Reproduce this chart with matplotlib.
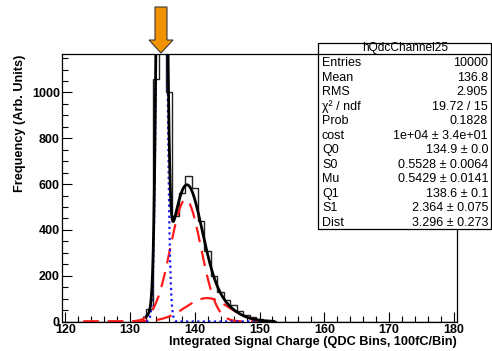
import numpy as np
import matplotlib
matplotlib.use("Agg")
import matplotlib.pyplot as plt
from matplotlib.patches import Rectangle, Polygon
from matplotlib.lines import Line2D
from matplotlib.ticker import MultipleLocator

plt.rcParams['font.family'] = ['Liberation Sans', 'DejaVu Sans']

# Histogram: unit-width QDC bins, centres 120..180
bin_centers = list(range(120, 181))
counts_nonzero = {
    133: 53, 134: 1058, 135: 4296, 136: 1003, 137: 460, 138: 560,
    139: 635, 140: 581, 141: 439, 142: 310, 143: 200, 144: 130,
    145: 95, 146: 70, 147: 45, 148: 30, 149: 18, 150: 10, 151: 5, 152: 2,
}
counts = [counts_nonzero.get(c, 0) for c in bin_centers]

# Fit parameters (stat box)
hist_name = "hQdcChannel25"
entries = 10000
mean = 136.8
rms = 2.905
chi2, ndf = 19.72, 15
prob = 0.1828
cost, cost_err = 1e4, 34.0
q0, q0_err = 134.9, 0.0
s0, s0_err = 0.5528, 0.0064
mu, mu_err = 0.5429, 0.0141
q1, q1_err = 138.6, 0.1
s1, s1_err = 2.364, 0.075
dist, dist_err = 3.296, 0.273

stat_labels = ["Entries", "Mean", "RMS", "χ² / ndf", "Prob", "cost",
               "Q0", "S0", "Mu", "Q1", "S1", "Dist"]
stat_values = ["%d" % entries, "%.1f" % mean, "%.3f" % rms,
               "%.2f / %d" % (chi2, ndf), "%.4f" % prob,
               "1e+04 ± 3.4e+01",
               "%.1f ± %.1f" % (q0, q0_err), "%.4f ± %.4f" % (s0, s0_err),
               "%.4f ± %.4f" % (mu, mu_err), "%.1f ± %.1f" % (q1, q1_err),
               "%.3f ± %.3f" % (s1, s1_err), "%.3f ± %.3f" % (dist, dist_err)]


def gauss(x, area, c, s):
    return area / (np.sqrt(2 * np.pi) * s) * np.exp(-0.5 * ((x - c) / s) ** 2)


W, H = 492, 351


def fx(x):
    return x / W


def fy(y):
    return 1 - y / H


fig = plt.figure(figsize=(W / 100, H / 100), dpi=100)
fig.patch.set_facecolor('white')

ax_l, ax_r, ax_t, ax_b = 62, 457, 54, 321.5
ax = fig.add_axes([fx(ax_l), fy(ax_b), (ax_r - ax_l) / W, (ax_b - ax_t) / H])

edges = np.arange(119.5, 181.0, 1.0)
ax.stairs(counts, edges, color='#222222', lw=1.0, baseline=0)

# Poisson-weighted Gaussian components
p0 = np.exp(-mu)
p1 = mu * p0
p2 = mu ** 2 / 2 * p0
x_ped = np.linspace(132.5, 152.2, 800)
x_pe = np.linspace(122.8, 152.2, 800)
ped = gauss(x_ped, cost * p0, q0, s0)
pe1 = gauss(x_pe, cost * p1, q1, s1)
pe2 = gauss(x_pe, cost * p2, q1 + dist, s1 * np.sqrt(2))
total = gauss(x_ped, cost * p0, q0, s0) + gauss(x_ped, cost * p1, q1, s1) \
    + gauss(x_ped, cost * p2, q1 + dist, s1 * np.sqrt(2))

ax.plot(x_pe, pe1, color='#ff1a1a', lw=1.6, dashes=(7, 4))
ax.plot(x_pe, pe2, color='#ff1a1a', lw=1.6, dashes=(7, 4))
ax.plot(x_ped, ped, color='#1a1aff', lw=1.6, ls=(0, (1, 1.5)))
ax.plot(x_ped, total, color='black', lw=2.0)

ax.set_xlim(119.5, 180.5)
ax.set_ylim(0, 1168)
ax.xaxis.set_major_locator(MultipleLocator(10))
ax.xaxis.set_minor_locator(MultipleLocator(2))
ax.yaxis.set_major_locator(MultipleLocator(200))
ax.yaxis.set_minor_locator(MultipleLocator(50))
ax.tick_params(which='both', direction='in', top=False, right=False,
               width=0.8, color='black')
ax.tick_params(which='major', length=7, labelsize=9, pad=1.5)
ax.tick_params(which='minor', length=4)
for lab in ax.get_xticklabels() + ax.get_yticklabels():
    lab.set_fontweight('bold')
for sp in ax.spines.values():
    sp.set_linewidth(0.9)

fig.text(fx(457), fy(341.5), "Integrated Signal Charge (QDC Bins, 100fC/Bin)",
         ha='right', va='center', fontsize=9.2, fontweight='bold')
fig.text(fx(20), fy(55), "Frequency (Arb. Units)", rotation=90,
         ha='center', va='top', fontsize=9.2, fontweight='bold')

# Stat box
bx0, bx1, by0, by1 = 318.3, 491.0, 43.3, 228.7
fig.patches.append(Rectangle((fx(bx0), fy(by1)), (bx1 - bx0) / W, (by1 - by0) / H,
                             transform=fig.transFigure, facecolor='white',
                             edgecolor='black', lw=0.9, zorder=5))
fig.lines.append(Line2D([fx(bx0), fx(bx1)], [fy(54), fy(54)],
                        transform=fig.transFigure, color='black', lw=0.9, zorder=6))
fig.text(fx((bx0 + bx1) / 2), fy(48.5), hist_name, ha='center', va='center',
         fontsize=8.6, zorder=7)
row_y0, row_dy = 63.3, 14.49
for i, (lab, val) in enumerate(zip(stat_labels, stat_values)):
    yy = row_y0 + i * row_dy
    fig.text(fx(322), fy(yy), lab, ha='left', va='center', fontsize=9, zorder=7)
    fig.text(fx(488), fy(yy), val, ha='right', va='center', fontsize=9, zorder=7)

# Marker arrow above the pedestal peak
arrow_pts = [(155, 7), (167, 7), (167, 40), (173, 40), (161, 53),
             (149, 40), (155, 40)]
fig.patches.append(Polygon([(fx(a), fy(b)) for a, b in arrow_pts], closed=True,
                           transform=fig.transFigure, facecolor='#f39200',
                           edgecolor='#3a3a3a', lw=0.8, zorder=8))

fig.savefig('out.png', dpi=100)
